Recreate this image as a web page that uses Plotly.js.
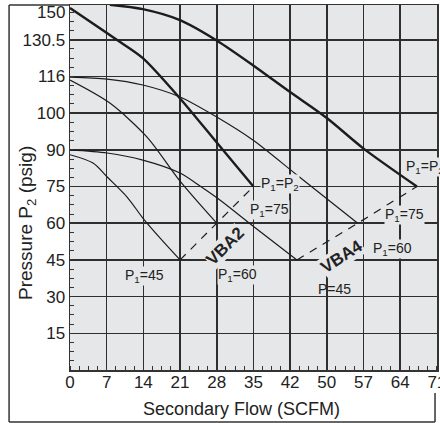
<!DOCTYPE html>
<html><head><meta charset="utf-8">
<script src="https://cdn.plot.ly/plotly-3.0.1.min.js"></script>
<style>html,body{margin:0;padding:0;background:#fff}#chart{width:440px;height:423px}</style>
</head><body><div id="chart"></div>
<script>
// Axis ticks (positions on the evenly spaced grid, and their printed labels)
const xTickVals = [0, 7, 14, 21, 28, 35, 42, 49, 56, 63, 70];
const xTickText = ['0', '7', '14', '21', '28', '35', '42', '50', '57', '64', '71'];
const yTickVals = [15, 30, 45, 60, 75, 90, 105, 120, 135];
const yTickText = ['15', '30', '45', '60', '75', '90', '100', '116', '130.5'];
const yTopLabelVal = 146;
const yTopLabelText = '150';

// VBA2 curves
const vba2P45X = [0, 4.4, 7.1, 10.9, 13.9, 17.2, 21];
const vba2P45Y = [88, 84.6, 78.9, 70.7, 62.1, 53.9, 45];
const vba2P60X = [0, 7.6, 14.7, 21, 28];
const vba2P60Y = [118.5, 109.1, 95.2, 77.2, 60];
const vba2PPX = [0, 9, 13.9, 21, 28, 35];
const vba2PPY = [148, 134.9, 127.5, 111, 93, 75];
// VBA4 curves
const vba4P45X = [0, 7.1, 13.9, 21, 24.8, 28.6, 34.9, 43.3];
const vba4P45Y = [90, 88.7, 85.8, 80.5, 75.2, 69.5, 58.9, 45];
const vba4P60X = [0, 7.1, 13.9, 21, 28, 34.9, 43.3, 54.9];
const vba4P60Y = [119.7, 118.9, 116.5, 111.6, 103.4, 94, 79.7, 60];
const vba4PPX = [7.6, 13.9, 21, 28.2, 34.9, 42, 49, 55.9, 66.2];
const vba4PPY = [149.3, 147.5, 143, 134.4, 124.6, 113.6, 103, 90.7, 75];
// End-point (P1 = P2) dashed lines
const vba2EndX = [21, 28, 35];
const vba2EndY = [45, 60, 75];
const vba4EndX = [43.3, 54.9, 66.2];
const vba4EndY = [45, 60, 75];

// Labels
const labelText = ['P<sub>1</sub>=P<sub>2</sub>', 'P<sub>1</sub>=75', 'P<sub>1</sub>=60', 'P<sub>1</sub>=45',
                   'P<sub>1</sub>=P<sub>2</sub>', 'P<sub>1</sub>=75', 'P<sub>1</sub>=60', 'P=45'];
const labelX = [36.2, 38.1, 32, 14.3, 63.9, 63.9, 61.6, 50.5];
const labelY = [76, 65.4, 38.8, 38.4, 83, 63.3, 49.5, 33.1];
const labelAnchor = ['left', 'center', 'center', 'center', 'left', 'center', 'center', 'center'];
const modelText = ['VBA2', 'VBA4'];
const modelX = [29.6, 51.9];
const modelY = [50.3, 46.2];
const modelAngle = [-45, -33];

const ink = '#1c1c1c';
const thin = {color: ink, width: 1.2, shape: 'spline', smoothing: 0.8};
const thick = {color: ink, width: 2.4, shape: 'spline', smoothing: 0.8};
const dashed = {color: ink, width: 1.2, dash: '8px,7px'};

function tr(x, y, line) { return {x: x, y: y, mode: 'lines', line: line, hoverinfo: 'skip', showlegend: false}; }

const data = [
  tr(vba2P45X, vba2P45Y, thin), tr(vba2P60X, vba2P60Y, thin), tr(vba2PPX, vba2PPY, thick),
  tr(vba4P45X, vba4P45Y, thin), tr(vba4P60X, vba4P60Y, thin), tr(vba4PPX, vba4PPY, thick),
  tr(vba2EndX, vba2EndY, dashed), tr(vba4EndX, vba4EndY, dashed)
];

const font = 'Liberation Sans, Arial, sans-serif';
const bg = '#e6e7e8';
const annotations = [];
labelText.forEach((t, i) => annotations.push({
  x: labelX[i], y: labelY[i], xref: 'x', yref: 'y', text: t, showarrow: false,
  xanchor: labelAnchor[i], yanchor: 'middle', font: {family: font, size: 14, color: '#222'},
  bgcolor: t === 'P=45' ? 'rgba(0,0,0,0)' : bg, borderpad: 0
}));
modelText.forEach((t, i) => annotations.push({
  x: modelX[i], y: modelY[i], xref: 'x', yref: 'y', text: '<b>' + t + '</b>', showarrow: false,
  textangle: modelAngle[i], font: {family: font, size: 17, color: '#222'}, bgcolor: bg, borderpad: 0
}));
annotations.push({x: -0.008, y: yTopLabelVal, xref: 'paper', yref: 'y', text: yTopLabelText, showarrow: false,
  xanchor: 'right', yanchor: 'middle', font: {family: font, size: 17, color: '#222'}});
annotations.push({x: -0.117, y: 0.403, xref: 'paper', yref: 'paper', text: 'Pressure P<sub>2</sub> (psig)',
  showarrow: false, textangle: -90, xanchor: 'center', yanchor: 'middle', font: {family: font, size: 19, color: '#222'}});
annotations.push({x: 0.466, y: -0.107, xref: 'paper', yref: 'paper', text: 'Secondary Flow (SCFM)',
  showarrow: false, xanchor: 'center', yanchor: 'middle', font: {family: font, size: 18, color: '#222'}});

const frame = {color: '#333', width: 1.5};
const shapes = [
  {type: 'line', xref: 'paper', yref: 'paper', x0: -0.166, x1: -0.166, y0: -0.1425, y1: 1, line: frame},
  {type: 'line', xref: 'paper', yref: 'paper', x0: -0.166, x1: 0, y0: 1, y1: 1, line: frame},
  {type: 'line', xref: 'paper', yref: 'paper', x0: -0.166, x1: 0.9946, y0: -0.1425, y1: -0.1425, line: frame},
  {type: 'line', xref: 'paper', yref: 'paper', x0: 0.9946, x1: 0.9946, y0: -0.1425, y1: -0.063, line: frame}
];

const axisCommon = {
  showgrid: true, gridcolor: '#2e2e2e', gridwidth: 1.6, showline: true, mirror: true,
  linecolor: '#333', linewidth: 1.5, zeroline: false, ticks: '', tickmode: 'array',
  tickfont: {family: font, size: 17, color: '#222'}, fixedrange: true
};

const layout = {
  width: 440, height: 423, margin: {l: 70, r: 3, t: 5, b: 53},
  paper_bgcolor: '#fff', plot_bgcolor: bg, showlegend: false,
  xaxis: Object.assign({}, axisCommon, {range: [0, 70.03], tickvals: xTickVals, ticktext: xTickText,
    ticklabelstandoff: -4, ticklabeloverflow: 'allow',
    minor: {tickmode: 'linear', tick0: 0, dtick: 1.75, ticks: 'inside', ticklen: 4, tickcolor: '#333', tickwidth: 1, showgrid: false}}),
  yaxis: Object.assign({}, axisCommon, {range: [0, 149.2], tickvals: yTickVals, ticktext: yTickText,
    minor: {tickmode: 'linear', tick0: 0, dtick: 3.75, ticks: 'inside', ticklen: 4, tickcolor: '#333', tickwidth: 1, showgrid: false}}),
  annotations: annotations, shapes: shapes
};

Plotly.newPlot('chart', data, layout, {displayModeBar: false, staticPlot: true});
</script></body></html>
